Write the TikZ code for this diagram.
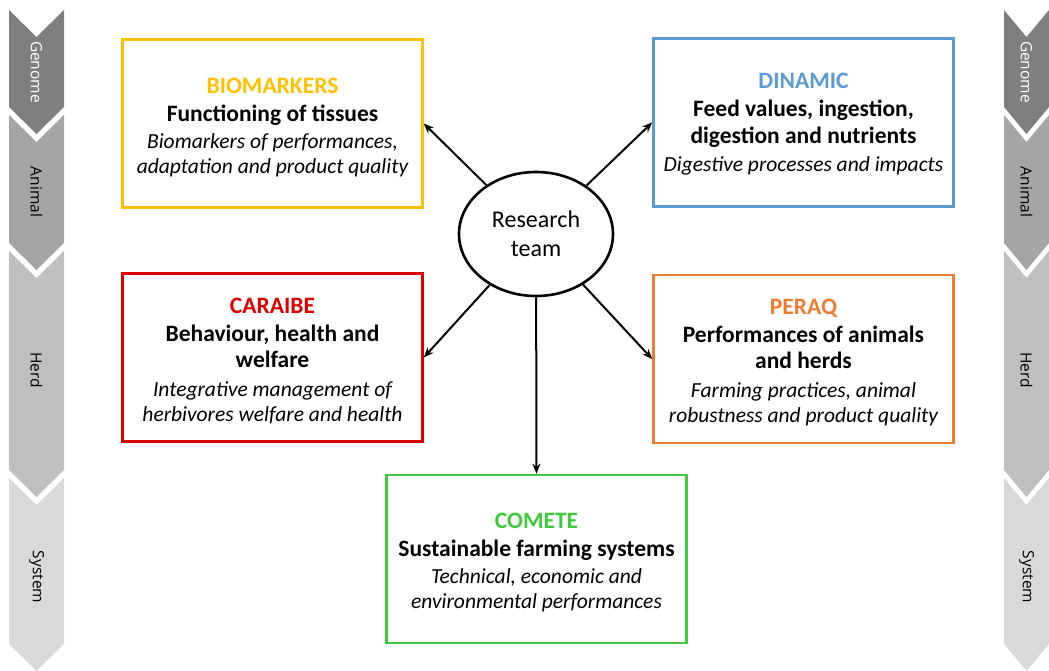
\documentclass[tikz,border=0pt]{standalone}
\usepackage{fontspec}
\setmainfont{Carlito}
\newfontfamily\labfont{Open Sans}
\usetikzlibrary{arrows.meta,shapes.geometric}

\definecolor{cbio}{HTML}{FFC000}
\definecolor{cdin}{HTML}{5B9BD5}
\definecolor{ccar}{HTML}{DD0000}
\definecolor{cper}{HTML}{ED7D31}
\definecolor{ccom}{HTML}{3DCB3D}
\definecolor{lvA}{HTML}{7F7F7F}
\definecolor{lvB}{HTML}{A5A5A5}
\definecolor{lvC}{HTML}{BFBFBF}
\definecolor{lvD}{HTML}{D9D9D9}

\tikzset{
  teambox/.style={draw=#1, line width=2.6pt, minimum width=300pt, minimum height=168pt,
    inner sep=0pt},
  teamtext/.style={align=center, inner sep=0pt, font=\fontsize{21.5}{25}\selectfont},
  hub/.style={ellipse, draw, line width=2.6pt, minimum width=154pt, minimum height=124pt,
    align=center, inner sep=0pt, font=\fontsize{24}{29}\selectfont},
  link/.style={line width=2pt, -{Stealth[length=10pt,width=8pt]}},
  lvtext/.style={rotate=-90, font=\labfont\fontsize{15.5}{18}\selectfont},
}
\newcommand{\ttl}{\bfseries\fontsize{23.5}{26}\selectfont}
\newcommand{\hdl}{\bfseries\fontsize{23.5}{26}\selectfont}
\newcommand{\itl}{\itshape}

% chevron band: x-range, top, bottom, fill colour
\newcommand{\chev}[5]{%
  \fill[#5] (#1,#3) -- ({(#1+#2)/2},#3+27) -- (#2,#3) -- (#2,#4)
    -- ({(#1+#2)/2},#4+27) -- (#1,#4) -- cycle;}

\begin{document}
\begin{tikzpicture}[x=1pt,y=-1pt]
\useasboundingbox (0,0) rectangle (1049,671);

% level bands, left and right
\foreach \xa/\xb/\side in {9/64/L,1004/1049/R}{
  \chev{\xa}{\xb}{10}{107}{lvA}
  \chev{\xa}{\xb}{115}{243}{lvB}
  \chev{\xa}{\xb}{251}{470}{lvC}
  \chev{\xa}{\xb}{478}{644}{lvD}
  \node[lvtext, text=white] (genome\side) at ({(\xa+\xb)/2},72) {Genome};
  \node[lvtext] (animal\side) at ({(\xa+\xb)/2},192) {Animal};
  \node[lvtext] (herd\side) at ({(\xa+\xb)/2},370) {Herd};
  \node[lvtext] (system\side) at ({(\xa+\xb)/2},577) {System};
}

% team boxes
\node[teambox=cbio] (bio) at (272.5,123.5) {};
\node[teamtext] (biotext) at ([yshift=-4pt]bio.center) {%
  {\color{cbio}\ttl BIOMARKERS}\\[3pt]
  {\hdl Functioning of tissues}\\[2pt]
  \itl Biomarkers of performances,\\
  \itl adaptation and product quality};
\node[teambox=cdin] (din) at (803.5,122.5) {};
\node[teamtext] (dintext) at ([yshift=-2pt]din.center) {%
  {\color{cdin}\ttl DINAMIC}\\[3pt]
  {\hdl Feed values, ingestion,}\\[2pt]
  {\hdl digestion and nutrients}\\[3pt]
  \itl Digestive processes and impacts};
\node[teambox=ccar] (car) at (272.5,357.5) {};
\node[teamtext] (cartext) at ([yshift=-4pt]car.center) {%
  {\color{ccar}\ttl CARAIBE}\\[3pt]
  {\hdl Behaviour, health and}\\[1pt]
  {\hdl welfare}\\[4pt]
  \itl Integrative management of\\
  \itl herbivores welfare and health};
\node[teambox=cper] (per) at (803.5,359) {};
\node[teamtext] (pertext) at ([yshift=-4pt]per.center) {%
  {\color{cper}\ttl PERAQ}\\[3pt]
  {\hdl Performances of animals}\\[1pt]
  {\hdl and herds}\\[4pt]
  \itl Farming practices, animal\\
  \itl robustness and product quality};
\node[teambox=ccom] (com) at (536.5,559) {};
\node[teamtext] (comtext) at ([yshift=-4pt]com.center) {%
  {\color{ccom}\ttl COMETE}\\[3pt]
  {\hdl Sustainable farming systems}\\[2pt]
  \itl Technical, economic and\\
  \itl environmental performances};

% central hub
\node[hub] (team) at (536,234) {Research\\team};

% links
\draw[link] (team) -- (bio.east);
\draw[link] (team) -- (din.west);
\draw[link] (team) -- (car.east);
\draw[link] (team) -- (per.west);
\draw[link] (team) -- (com.north);
\end{tikzpicture}
\end{document}
